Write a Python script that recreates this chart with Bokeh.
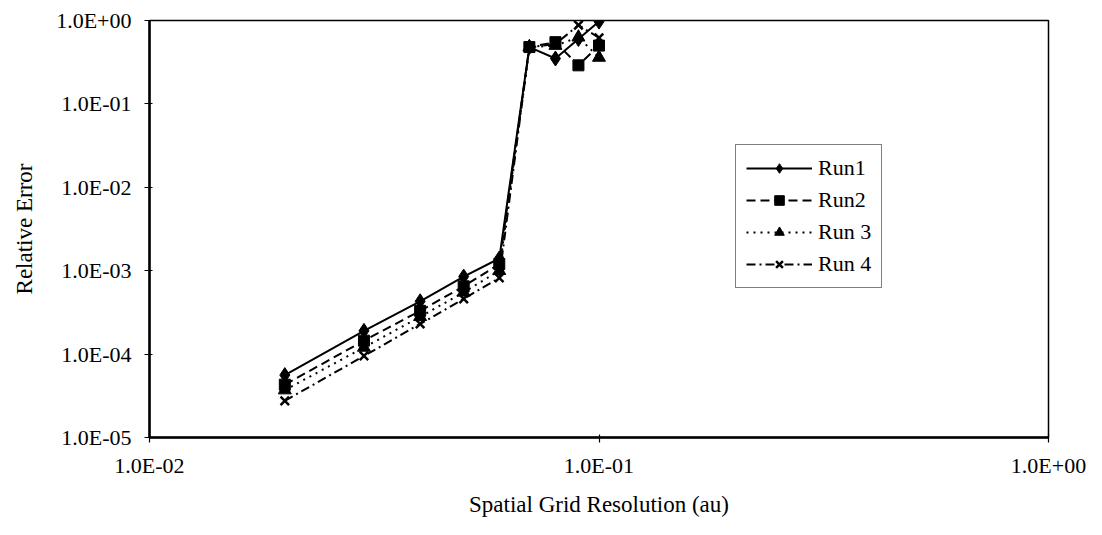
from bokeh.plotting import figure
from bokeh.models import FixedTicker, CustomJSTickFormatter, Legend, LegendItem
from bokeh.embed import file_html
from bokeh.resources import INLINE

# ---- data ----
x_res = [0.02, 0.03, 0.04, 0.05, 0.06, 0.07, 0.08, 0.09, 0.1]
run1 = [5.6e-5, 1.9e-4, 4.3e-4, 8.5e-4, 1.4e-3, 0.48, 0.35, 0.60, 0.97]
run2 = [4.3e-5, 1.45e-4, 3.3e-4, 6.5e-4, 1.2e-3, 0.48, 0.55, 0.29, 0.50]
run3 = [3.7e-5, 1.2e-4, 2.8e-4, 5.5e-4, 1.0e-3, 0.48, 0.50, 0.63, 0.36]
run4 = [2.75e-5, 9.5e-5, 2.3e-4, 4.6e-4, 8.2e-4, 0.48, 0.52, 0.88, 0.62]
series_names = ["Run1", "Run2", "Run 3", "Run 4"]
x_ticks = [0.01, 0.1, 1.0]
y_ticks = [1e-5, 1e-4, 1e-3, 1e-2, 1e-1, 1.0]

FONT = "Liberation Serif"

p = figure(width=1086, height=519, x_axis_type="log", y_axis_type="log",
           x_range=(0.01, 1.0), y_range=(1e-5, 1.0),
           output_backend="svg", toolbar_location=None,
           min_border_left=149, min_border_top=20, min_border_right=38,
           min_border_bottom=78)
p.background_fill_color = "white"
p.border_fill_color = "white"
p.outline_line_color = "black"
p.outline_line_width = 1.5
p.xgrid.visible = False
p.ygrid.visible = False

fmt = CustomJSTickFormatter(code="""
var s = tick.toExponential(1).split('e');
var e = parseInt(s[1]);
var sign = e < 0 ? '-' : '+';
var a = Math.abs(e);
return s[0] + 'E' + sign + (a < 10 ? '0' : '') + a;
""")

for ax, ticks in ((p.xaxis[0], x_ticks), (p.yaxis[0], y_ticks)):
    ax.ticker = FixedTicker(ticks=ticks, minor_ticks=[])
    ax.formatter = fmt
    ax.axis_line_color = "black"
    ax.axis_line_width = 2.5
    ax.major_tick_line_color = "black"
    ax.major_tick_line_width = 1.2
    ax.major_tick_in = 3
    ax.major_tick_out = 5
    ax.minor_tick_line_color = None
    ax.major_label_text_font = FONT
    ax.major_label_text_font_size = "22px"
    ax.major_label_text_color = "black"
    ax.axis_label_text_font = FONT
    ax.axis_label_text_font_size = "23px"
    ax.axis_label_text_font_style = "normal"
    ax.axis_label_text_color = "black"

p.xaxis.axis_label = "Spatial Grid Resolution (au)"
p.yaxis.axis_label = "Relative Error"
p.xaxis.major_label_standoff = 10
p.yaxis.major_label_standoff = 13
p.xaxis.axis_label_standoff = 11
p.yaxis.axis_label_standoff = 16

styles = [
    (run1, "solid", "diamond", 15),
    (run2, "9 5", "square", 11),
    (run3, "2 5", "triangle", 13),
    (run4, "9 4 2 4", "x", 12),
]

items = []
for name, (vals, dash, marker, size) in zip(series_names, styles):
    ln = p.line(x_res, vals, line_color="black", line_width=2, line_dash=dash)
    kw = dict(line_color="black", fill_color="black", size=size)
    if marker == "x":
        kw["line_width"] = 2.5
    mk = p.scatter(x_res, vals, marker=marker, **kw)
    items.append(LegendItem(label=name, renderers=[ln, mk]))

legend = Legend(items=items, location=(586, 149),
                label_text_font=FONT, label_text_font_size="22px",
                label_text_color="black",
                border_line_color="black", border_line_width=1.2,
                background_fill_color="white", background_fill_alpha=1,
                glyph_width=66, glyph_height=24, spacing=6,
                padding=10, margin=0, label_standoff=6)
p.add_layout(legend, "center")

open("out.html", "w").write(file_html(p, INLINE))
